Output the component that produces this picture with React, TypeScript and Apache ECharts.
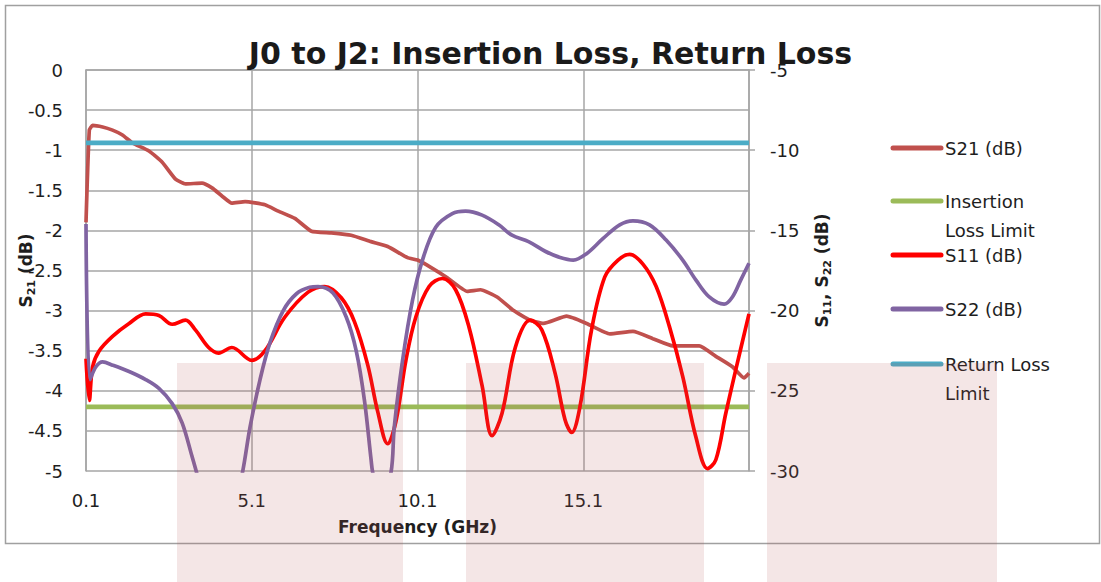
import React, { useEffect, useRef } from "react";
import * as echarts from "echarts";

// ---------- data ----------
const X_OFFSET = 0.1; // frequency axis starts at 0.1 GHz
const xTickLabels = ["0.1", "5.1", "10.1", "15.1"];

const s21Freq = [0.1, 0.2, 0.3, 0.6, 0.9, 1.2, 1.5, 2.0, 2.4, 2.8, 3.1, 3.6, 3.9, 4.2, 4.5, 4.9, 5.5, 5.9, 6.4, 6.9, 7.5, 8.1, 8.7, 9.2, 9.8, 10.1, 10.5, 11.0, 11.6, 12.0, 12.5, 13.0, 13.5, 13.9, 14.6, 15.2, 15.9, 16.6, 17.2, 17.8, 18.6, 19.1, 19.6, 19.95, 20.1];
const s21Db = [-1.9, -0.75, -0.69, -0.71, -0.75, -0.81, -0.91, -1.01, -1.15, -1.36, -1.42, -1.41, -1.47, -1.57, -1.66, -1.64, -1.68, -1.76, -1.85, -2.01, -2.03, -2.06, -2.14, -2.2, -2.34, -2.37, -2.46, -2.59, -2.76, -2.74, -2.83, -3.0, -3.12, -3.16, -3.07, -3.16, -3.29, -3.26, -3.35, -3.44, -3.44, -3.57, -3.7, -3.84, -3.78];

const s11Freq = [0.1, 0.2, 0.3, 0.5, 0.9, 1.4, 1.9, 2.3, 2.7, 3.1, 3.4, 3.8, 4.1, 4.5, 5.1, 5.5, 6.1, 6.8, 7.3, 7.8, 8.2, 8.6, 8.9, 9.2, 9.45, 9.75, 10.05, 10.45, 10.85, 11.25, 11.65, 12.05, 12.35, 12.65, 13.05, 13.5, 13.85, 14.25, 14.55, 14.75, 15.0, 15.35, 15.75, 16.15, 16.5, 16.9, 17.3, 17.7, 18.1, 18.5, 18.85, 19.1, 19.4, 19.7, 20.1];
const s11Db = [-23.0, -25.6, -23.5, -22.5, -21.6, -20.8, -20.2, -20.3, -20.85, -20.6, -21.2, -22.3, -22.65, -22.3, -23.1, -22.5, -20.4, -18.85, -18.5, -19.2, -20.7, -23.4, -26.3, -28.3, -26.9, -23.1, -20.4, -18.5, -18.0, -18.7, -21.0, -24.7, -27.8, -26.4, -22.3, -20.6, -21.2, -23.9, -26.8, -27.6, -26.0, -21.2, -17.9, -16.85, -16.5, -17.1, -18.5, -21.0, -24.1, -27.9, -29.85, -29.3, -26.4, -23.7, -20.2];

const s22Freq = [0.1, 0.22, 0.4, 0.6, 0.9, 1.4, 1.9, 2.3, 2.7, 3.0, 3.3, 3.45, 3.8, 4.1, 4.5, 4.82, 5.05, 5.35, 5.65, 6.05, 6.45, 6.85, 7.1, 7.55, 7.95, 8.25, 8.5, 8.7, 8.75, 9.0, 9.3, 9.4, 9.65, 9.95, 10.25, 10.65, 11.15, 11.55, 12.05, 12.55, 12.95, 13.45, 13.95, 14.35, 14.8, 15.2, 15.7, 16.2, 16.6, 17.1, 17.6, 18.1, 18.5, 18.9, 19.35, 19.6, 19.85, 20.1];
const s22Db = [-14.6, -24.3, -23.5, -23.2, -23.4, -23.8, -24.3, -24.85, -25.8, -27.0, -29.1, -30.2, -33.0, -34.0, -33.0, -30.1, -27.25, -24.3, -22.0, -20.0, -18.95, -18.55, -18.5, -18.9, -20.4, -22.5, -25.6, -29.3, -30.1, -32.0, -30.1, -27.25, -23.1, -19.35, -16.85, -14.8, -13.95, -13.8, -14.05, -14.65, -15.3, -15.7, -16.3, -16.65, -16.85, -16.45, -15.5, -14.65, -14.4, -14.65, -15.6, -16.85, -18.1, -19.15, -19.6, -19.15, -18.1, -17.05];

const limitFreq = [0.1, 20.1];
const insertionLossLimit = [-4.2, -4.2];
const returnLossLimit = [-9.54, -9.54];

const FONT = "'DejaVu Sans', sans-serif";
const TEXT = "#1e1e1e";
const GRID = "#a6a6a6";

export default function App() {
  const ref = useRef<HTMLDivElement>(null);

  useEffect(() => {
    const chart = echarts.init(ref.current!, null, { renderer: "svg" });
    const toXY = (fs: number[], vs: number[]) =>
      fs.map((f, i) => [Math.round((f - X_OFFSET) * 1000) / 1000, vs[i]]);

    const defs = [
      { name: "S21 (dB)", label: "S21 (dB)", color: "#c0504d", axis: 0, data: toXY(s21Freq, s21Db), width: 3.7, smooth: 0.15 },
      { name: "Insertion Loss Limit", label: "Insertion\nLoss Limit", color: "#9bbb59", axis: 0, data: toXY(limitFreq, insertionLossLimit), width: 4.8, smooth: 0 },
      { name: "S11 (dB)", label: "S11 (dB)", color: "#ff0000", axis: 1, data: toXY(s11Freq, s11Db), width: 3.7, smooth: 0.35 },
      { name: "S22 (dB)", label: "S22 (dB)", color: "#8064a2", axis: 1, data: toXY(s22Freq, s22Db), width: 3.7, smooth: 0.35 },
      { name: "Return Loss Limit", label: "Return Loss\nLimit", color: "#4bacc6", axis: 1, data: toXY(limitFreq, returnLossLimit), width: 4.8, smooth: 0 },
    ];
    const legendY = [148, 201, 255, 309, 364];

    const legendEls: any[] = [];
    defs.forEach((d, i) => {
      legendEls.push({
        type: "line",
        shape: { x1: 893, y1: legendY[i], x2: 941, y2: legendY[i] },
        style: { stroke: d.color, lineWidth: 5, lineCap: "round" },
      });
      legendEls.push({
        type: "text",
        style: {
          text: d.label,
          x: 945,
          y: legendY[i] - 14.5,
          font: `18px ${FONT}`,
          fill: TEXT,
          align: "left",
          verticalAlign: "top",
          lineHeight: 29,
        },
      });
    });

    const pink = "rgba(180,90,90,0.15)";
    const overlays = [
      [177, 363, 226, 219],
      [466, 363, 238, 219],
      [767, 363, 230, 219],
    ].map(([x, y, w, h]) => ({
      type: "rect",
      z: 100,
      shape: { x, y, width: w, height: h },
      style: { fill: pink },
      silent: true,
    }));

    const richName = {
      b: { fontFamily: FONT, fontSize: 17, fontWeight: "bold", color: TEXT, lineHeight: 22 },
      sub: { fontFamily: FONT, fontSize: 11, fontWeight: "bold", color: TEXT, lineHeight: 12, verticalAlign: "bottom" },
    };

    chart.setOption({
      animation: false,
      backgroundColor: "#ffffff",
      title: {
        text: "J0 to J2: Insertion Loss, Return Loss",
        left: "center",
        top: 38,
        padding: 0,
        textStyle: { fontFamily: FONT, fontSize: 30, fontWeight: "bold", color: "#1a1a1a" },
      },
      grid: { left: 86, right: 352, top: 70, bottom: 111, containLabel: false, outerBoundsMode: "none" },
      xAxis: {
        type: "value",
        min: 0,
        max: 20,
        interval: 5,
        name: "Frequency (GHz)",
        nameLocation: "middle",
        nameGap: 47,
        nameMoveOverlap: false,
        nameTextStyle: { fontFamily: FONT, fontSize: 17, fontWeight: "bold", color: TEXT },
        axisLine: { show: true, lineStyle: { color: GRID, width: 1.5 } },
        axisTick: { show: false },
        splitLine: { show: true, lineStyle: { color: GRID, width: 1.5 } },
        axisLabel: {
          fontFamily: FONT,
          fontSize: 18,
          color: TEXT,
          margin: 20,
          showMaxLabel: false,
          formatter: (v: number) => {
            const idx = Math.round(v / 5);
            return xTickLabels[idx] ?? "";
          },
        },
      },
      yAxis: [
        {
          type: "value",
          position: "left",
          min: -5,
          max: 0,
          interval: 0.5,
          name: "{b|S}{sub|21}{b| (dB)}",
          nameLocation: "middle",
          nameRotate: 90,
          nameGap: 49,
          nameMoveOverlap: false,
          nameTextStyle: { rich: richName },
          axisLine: { show: true, lineStyle: { color: GRID, width: 1.5 } },
          axisTick: { show: false },
          splitLine: { show: true, lineStyle: { color: GRID, width: 1.5 } },
          axisLabel: { fontFamily: FONT, fontSize: 18, color: TEXT, margin: 23 },
        },
        {
          type: "value",
          position: "right",
          min: -30,
          max: -5,
          interval: 5,
          name: "{b|S}{sub|11}{b|, S}{sub|22}{b| (dB)}",
          nameLocation: "middle",
          nameRotate: 90,
          nameGap: 62,
          nameMoveOverlap: false,
          nameTextStyle: { rich: richName },
          axisLine: { show: true, lineStyle: { color: GRID, width: 1.5 } },
          axisTick: { show: true, inside: false, length: 6, lineStyle: { color: GRID, width: 1.5 } },
          splitLine: { show: false },
          axisLabel: { fontFamily: FONT, fontSize: 18, color: TEXT, margin: 21 },
        },
      ],
      series: defs.map((d) => ({
        name: d.name,
        type: "line",
        yAxisIndex: d.axis,
        data: d.data,
        showSymbol: false,
        symbol: "none",
        smooth: d.smooth,
        clip: true,
        lineStyle: { color: d.color, width: d.width },
        itemStyle: { color: d.color },
      })),
      graphic: [
        {
          type: "rect",
          z: -1,
          shape: { x: 5.5, y: 5.5, width: 1094, height: 538 },
          style: { fill: "none", stroke: "#a0a0a0", lineWidth: 1.5 },
          silent: true,
        },
        ...legendEls,
        ...overlays,
      ],
    });

    return () => chart.dispose();
  }, []);

  return (
    <div
      ref={ref}
      style={{ position: "fixed", left: 0, top: 0, width: 1101, height: 582, background: "#fff" }}
    />
  );
}
